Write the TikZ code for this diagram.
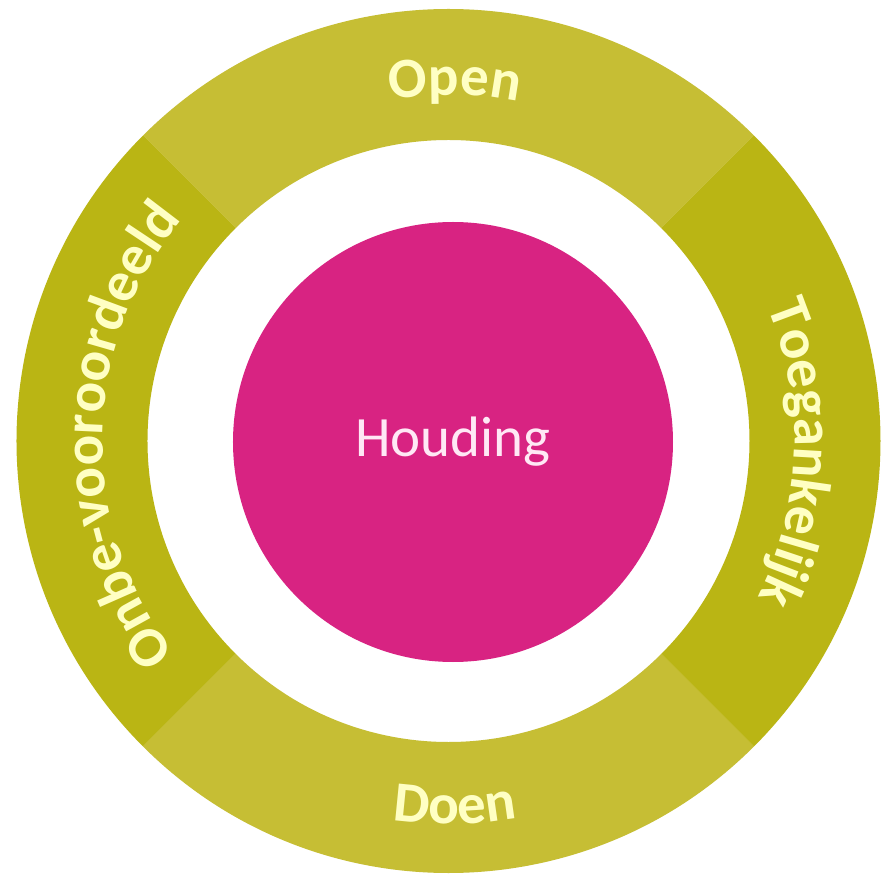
\documentclass[tikz,border=0pt]{standalone}
\usepackage{fontspec}
\setmainfont{Carlito}
\usetikzlibrary{decorations.text, positioning}
\usepackage{xcolor}

\definecolor{segLight}{RGB}{198,190,52}
\definecolor{segDark}{RGB}{186,181,20}
\definecolor{houdingPink}{RGB}{216,35,130}
\definecolor{ringText}{RGB}{255,255,195}
\definecolor{houdingText}{RGB}{255,232,245}
\newcommand{\ringfont}{\fontsize{57}{60}\selectfont}

\tikzset{
    houding/.style={circle, fill=houdingPink, minimum size=440pt, inner sep=0pt,
        text=houdingText, font=\ringfont},
    ringlabel/.style={decorate, decoration={text along path, text={|\ringfont\bfseries|#1},
        text align=center, text color=ringText}}
}

\begin{document}
\begin{tikzpicture}
            \fill[white] (-448.5pt,-437pt) rectangle (432.5pt,441pt);
            \useasboundingbox (-448.5pt,-437pt) rectangle (432.5pt,441pt);
            % ring segments
            \foreach \a/\c in {45/segLight, 135/segDark, 225/segLight, 315/segDark}{
                \fill[\c] (\a:432pt) arc[start angle=\a, end angle=\a+90, radius=432pt]
                    -- (\a+90:301pt) arc[start angle=\a+90, end angle=\a, radius=301pt] -- cycle;
            }
            % labels in the ring
            \path[ringlabel=Open] (134:346pt) arc[start angle=134, end angle=44, radius=346pt];
            \path[ringlabel=Toegankelijk] (43:346pt) arc[start angle=43, end angle=-47, radius=346pt];
            \path[ringlabel=Doen] (226:383pt) arc[start angle=226, end angle=316, radius=383pt];
            \path[ringlabel=Onbe-vooroordeeld] (224:346pt) arc[start angle=224, end angle=134, radius=346pt];
            % centre
            \node[houding] (houding) at (4.5pt,-1pt) {Houding};
        \end{tikzpicture}
\end{document}
